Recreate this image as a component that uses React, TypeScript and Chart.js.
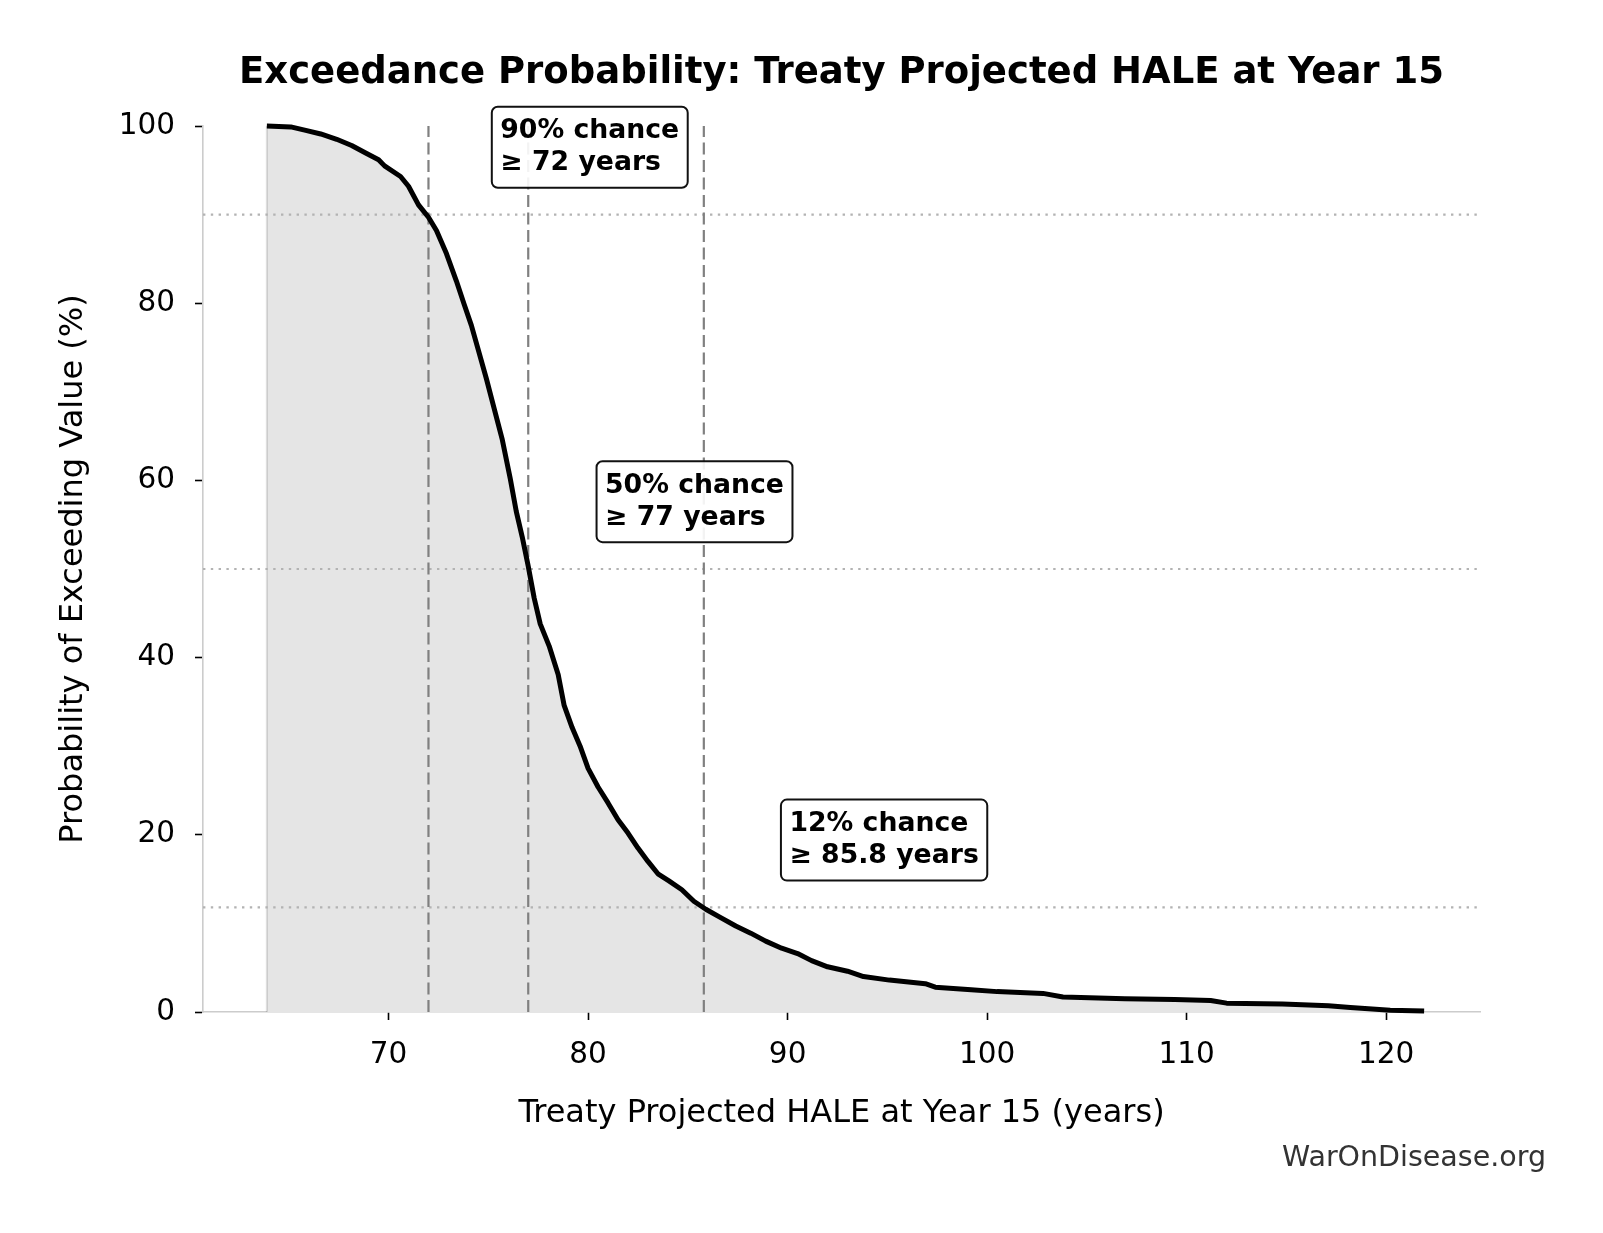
import React, { useEffect, useRef } from "react";
import { Chart, registerables } from "chart.js";
Chart.register(...registerables);

// Exceedance curve: HALE value (years) vs probability of exceeding (%)
const haleValues = [
  63.9, 65.1, 65.85, 66.6, 67.4, 68.15, 68.9, 69.5, 69.8, 70.6, 71.0, 71.5, 72.0, 72.4, 72.9, 73.4,
  73.8, 74.15, 74.5, 74.9, 75.3, 75.7, 76.1, 76.4, 76.7, 77.0, 77.3, 77.6, 78.05, 78.5, 78.8, 79.2,
  79.6, 80.0, 80.5, 81.0, 81.5, 82.0, 82.5, 83.0, 83.5, 84.05, 84.7, 85.3, 85.9, 86.6, 87.4, 88.15,
  88.9, 89.7, 90.5, 91.2, 92.0, 93.0, 93.8, 95.1, 96.9, 97.4, 99.2, 100.5, 102.8, 103.8, 106.9, 109.4,
  111.2, 112.0, 114.8, 117.1, 118.2, 120.2, 121.9,
];
const exceedancePct = [
  100, 99.9, 99.5, 99.1, 98.5, 97.8, 96.9, 96.2, 95.5, 94.3, 93.2, 91.1, 89.7, 88.2, 85.6, 82.5,
  79.8, 77.5, 74.7, 71.5, 68.05, 64.6, 60.2, 56.5, 53.6, 50.3, 46.7, 43.8, 41.3, 38.1, 34.6, 32.1,
  30.0, 27.5, 25.4, 23.6, 21.7, 20.2, 18.5, 17.0, 15.6, 14.8, 13.8, 12.5, 11.6, 10.7, 9.7, 8.9,
  8.0, 7.2, 6.6, 5.8, 5.1, 4.6, 4.0, 3.6, 3.2, 2.8, 2.5, 2.3, 2.1, 1.7, 1.5, 1.4,
  1.3, 1.0, 0.9, 0.7, 0.5, 0.2, 0.1,
];

// Threshold markers
const thresholdChance = ["90%", "50%", "12%"];
const thresholdProbs = [90, 50, 11.8];
const thresholdYears = [72, 77, 85.8];
const thresholdYearLabels = ["72", "77", "85.8"];

// Axis ticks
const xTickValues = [70, 80, 90, 100, 110, 120];
const yTickValues = [0, 20, 40, 60, 80, 100];

const TITLE = "Exceedance Probability: Treaty Projected HALE at Year 15";
const X_LABEL = "Treaty Projected HALE at Year 15 (years)";
const Y_LABEL = "Probability of Exceeding Value (%)";
const WATERMARK = "WarOnDisease.org";

const X_MIN = 60.7;
const X_MAX = 124.7;
const FONT = "'DejaVu Sans', sans-serif";

export default function App() {
  const ref = useRef<HTMLCanvasElement | null>(null);

  useEffect(() => {
    const canvas = ref.current;
    if (!canvas) return;
    const curve = haleValues.map((x, i) => ({ x, y: exceedancePct[i] }));

    const datasets: any[] = [];
    datasets.push({
      data: curve,
      borderWidth: 0,
      backgroundColor: "#e5e5e5",
      fill: "origin",
      pointRadius: 0,
      order: 6,
    });
    datasets.push({
      data: [
        { x: haleValues[0], y: 0 },
        { x: haleValues[0], y: exceedancePct[0] },
      ],
      borderColor: "rgba(0,0,0,0.13)",
      borderWidth: 2,
      fill: false,
      pointRadius: 0,
      order: 5,
    });
    thresholdYears.forEach((yr) => {
      datasets.push({
        data: [
          { x: yr, y: 0 },
          { x: yr, y: 100 },
        ],
        borderColor: "#808080",
        borderWidth: 2.2,
        borderDash: [12, 5.5],
        fill: false,
        pointRadius: 0,
        order: 3,
      });
    });
    thresholdProbs.forEach((p) => {
      datasets.push({
        data: [
          { x: X_MIN, y: p },
          { x: X_MAX, y: p },
        ],
        borderColor: "#b3b3b3",
        borderWidth: 2.2,
        borderDash: [2.4, 5.4],
        fill: false,
        pointRadius: 0,
        order: 4,
      });
    });
    datasets.push({
      data: curve,
      borderColor: "#000000",
      borderWidth: 5,
      fill: false,
      pointRadius: 0,
      tension: 0,
      clip: false,
      borderJoinStyle: "round",
      borderCapStyle: "butt",
      order: 1,
    });

    const textPlugin = {
      id: "textPlugin",
      afterDraw(chart: any) {
        const ctx = chart.ctx;
        const xs = chart.scales.x;
        const ys = chart.scales.y;
        const area = chart.chartArea;
        ctx.save();
        // title
        ctx.fillStyle = "#000";
        ctx.font = `bold 37px ${FONT}`;
        ctx.textAlign = "center";
        ctx.textBaseline = "middle";
        ctx.fillText(TITLE, (area.left + area.right) / 2, 73);
        // axis labels
        ctx.font = `32px ${FONT}`;
        ctx.fillText(X_LABEL, (area.left + area.right) / 2, 1114);
        ctx.save();
        ctx.translate(74, (area.top + area.bottom) / 2);
        ctx.rotate(-Math.PI / 2);
        ctx.fillText(Y_LABEL, 0, 0);
        ctx.restore();
        // watermark
        ctx.fillStyle = "#333333";
        ctx.font = `28.5px ${FONT}`;
        ctx.textAlign = "right";
        ctx.fillText(WATERMARK, 1546, 1159);
        // annotations
        ctx.font = `bold 26.7px ${FONT}`;
        ctx.textAlign = "left";
        thresholdYears.forEach((yr, i) => {
          const l1 = `${thresholdChance[i]} chance`;
          const l2 = `\u2265 ${thresholdYearLabels[i]} years`;
          const tx = xs.getPixelForValue(yr * 1.05);
          const my = ys.getPixelForValue(thresholdProbs[i] + 7.6);
          const w = Math.max(ctx.measureText(l1).width, ctx.measureText(l2).width);
          const bx = tx - 8.5;
          const bw = w + 17;
          const by = my - 40.5;
          const bh = 81;
          ctx.beginPath();
          ctx.roundRect(bx, by, bw, bh, 6);
          ctx.fillStyle = "rgba(255,255,255,0.9)";
          ctx.fill();
          ctx.lineWidth = 2;
          ctx.strokeStyle = "#111";
          ctx.stroke();
          ctx.fillStyle = "#000";
          ctx.textBaseline = "middle";
          ctx.fillText(l1, tx, my - 16);
          ctx.fillText(l2, tx, my + 16);
        });
        ctx.restore();
      },
    };

    const chart = new Chart(canvas, {
      type: "line",
      data: { datasets },
      options: {
        responsive: false,
        animation: false,
        devicePixelRatio: 1,
        layout: { padding: { left: 0, top: 126, right: 123, bottom: 0 } },
        plugins: {
          legend: { display: false },
          tooltip: { enabled: false },
          title: { display: false },
        },
        scales: {
          x: {
            type: "linear",
            min: X_MIN,
            max: X_MAX,
            afterBuildTicks: (scale: any) => {
              scale.ticks = xTickValues.map((v) => ({ value: v }));
            },
            afterFit: (scale: any) => {
              scale.height = 221;
            },
            ticks: {
              font: { family: FONT, size: 29.5 },
              color: "#000",
              padding: 18,
              maxRotation: 0,
              autoSkip: false,
            },
            grid: {
              display: true,
              drawOnChartArea: false,
              drawTicks: true,
              tickLength: 8,
              tickColor: "#000",
              tickWidth: 1.6,
            },
            border: { display: true, color: "#cccccc", width: 1.6 },
          },
          y: {
            type: "linear",
            min: 0,
            max: 100,
            afterBuildTicks: (scale: any) => {
              scale.ticks = yTickValues.map((v) => ({ value: v }));
            },
            afterFit: (scale: any) => {
              scale.width = 203;
            },
            ticks: {
              font: { family: FONT, size: 29.5 },
              color: "#000",
              padding: 20,
              autoSkip: false,
            },
            grid: {
              display: true,
              drawOnChartArea: false,
              drawTicks: true,
              tickLength: 8,
              tickColor: "#000",
              tickWidth: 1.6,
            },
            border: { display: true, color: "#cccccc", width: 1.6 },
          },
        },
      },
      plugins: [textPlugin],
    });
    return () => chart.destroy();
  }, []);

  return (
    <div style={{ position: "absolute", left: 0, top: 0, width: 1603, height: 1233, background: "#fff" }}>
      <canvas ref={ref} width={1603} height={1233} style={{ width: 1603, height: 1233 }} />
    </div>
  );
}
